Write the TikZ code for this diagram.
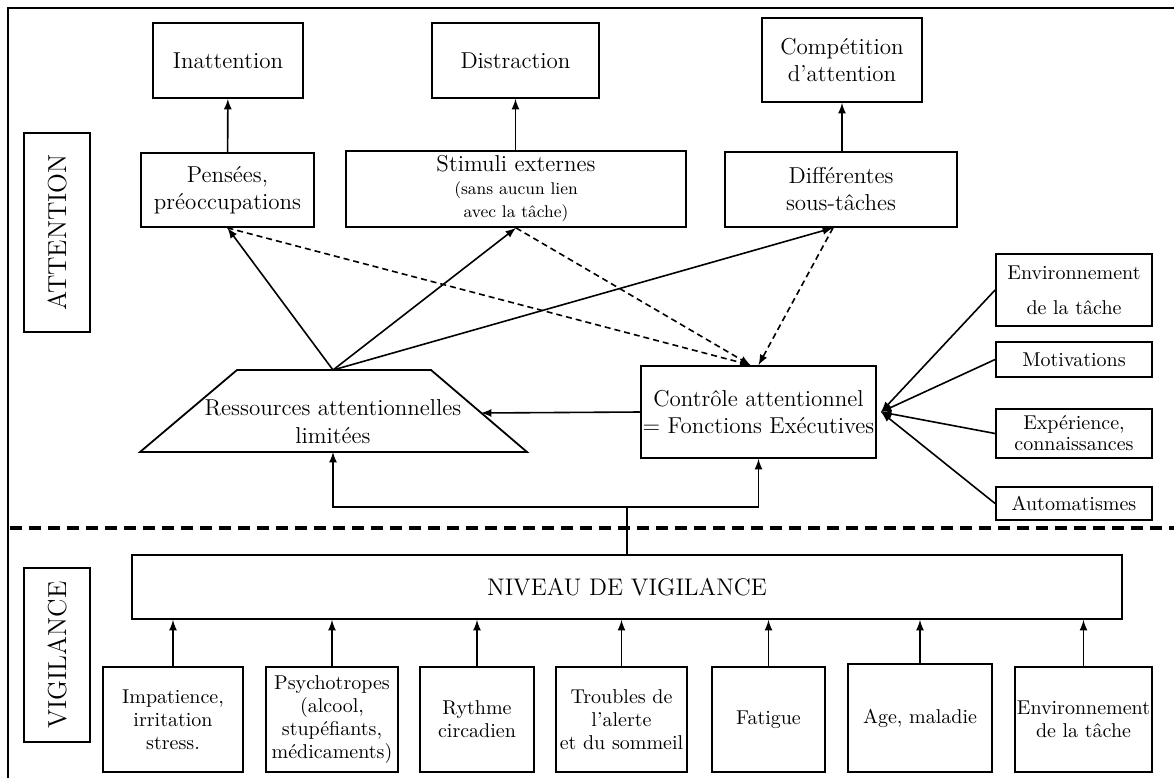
\documentclass[tikz,border=0pt]{standalone}
\usepackage{fontspec}
\usepackage{tikz}
\usetikzlibrary{arrows,calc}
\tikzset{
    box/.style = {draw, rectangle, line width=0.9pt, align=center,
        inner sep=1pt, font=\fontsize{11.5}{13.5}\selectfont},
    smallbox/.style = {box, font=\fontsize{10}{11.5}\selectfont},
    sidebox/.style = {box, rotate=90, minimum height=33pt,
        font=\fontsize{13}{15}\selectfont},
    arrow/.style = {draw, -latex, line width=0.8pt},
    dasharrow/.style = {arrow, dash pattern=on 3pt off 2pt},
    separator/.style = {line width=1.6pt, dash pattern=on 6pt off 3.5pt}
}

\begin{document}
\begin{tikzpicture}[x=0.5pt, y=-0.5pt]
    \useasboundingbox (0,0) rectangle (1174,778);
    \draw[line width=1pt] (8,778) -- (8,8) -- (1174,8);
    % attention part
    \node[sidebox, minimum width=99.5pt] (attn) at (57,232.5) {ATTENTION};
    \node[box, minimum width=75pt, minimum height=37.5pt] (inatt) at (228,60.5) {Inattention};
    \node[box, minimum width=83.5pt, minimum height=37.5pt] (distr) at (515.5,60.5) {Distraction};
    \node[box, minimum width=80pt, minimum height=42pt] (compet) at (842,60) {Compétition\\d’attention};
    \node[box, minimum width=86.5pt, minimum height=37pt] (pensees) at (227.5,190) {Pensées,\\préoccupations};
    \node[box, minimum width=170pt, minimum height=38pt] (stimuli) at (516,189)
        {Stimuli externes\\[-2pt]{\fontsize{8.5}{9.5}\selectfont (sans aucun lien}\\[-2pt]{\fontsize{8.5}{9.5}\selectfont avec la tâche)}};
    \node[box, minimum width=116pt, minimum height=37.5pt] (differ) at (841,189.5) {Différentes\\sous-tâches};
    \draw[line width=0.9pt] (237,370) -- (431,370) -- (527,452) -- (140,452) -- cycle;
    \coordinate (apex) at (333,370);
    \coordinate (resR) at (481,413);
    \coordinate (resB) at (333,452);
    \node[align=center, font=\fontsize{11.5}{14}\selectfont] (res) at (333,422) {Ressources attentionnelles\\limitées};
    \node[box, minimum width=117.5pt, minimum height=46pt] (controle) at (758.5,412)
        {Contrôle attentionnel\\= Fonctions Exécutives};
    \node[smallbox, minimum width=78pt, minimum height=36pt] (envt) at (1074,290) {Environnement\\[6pt]de la tâche};
    \node[smallbox, minimum width=78pt, minimum height=17.5pt] (motiv) at (1074,359.5) {Motivations};
    \node[smallbox, minimum width=78pt, minimum height=24.5pt, font=\fontsize{10}{10.5}\selectfont] (exper) at (1074,433.5) {Expérience,\\connaissances};
    \node[smallbox, minimum width=78pt, minimum height=16.5pt] (autom) at (1074,503.5) {Automatismes};
    \coordinate (hub) at (881,412);
    \coordinate (split) at (627,507);
    \draw[arrow] (pensees) -- (inatt);
    \draw[arrow] (stimuli.north -| distr) -- (distr);
    \draw[arrow] (differ.north -| compet) -- (compet);
    \draw[arrow] (apex) -- (pensees.south);
    \draw[arrow] (apex) -- (stimuli.south);
    \draw[arrow] (apex) -- ([xshift=-4pt]differ.south);
    \draw[dasharrow] (pensees.south) -- ([xshift=-4pt]controle.north);
    \draw[dasharrow] (stimuli.south) -- ([xshift=-4pt]controle.north);
    \draw[dasharrow] ([xshift=-4pt]differ.south) -- (controle.north);
    \draw[arrow] (controle.west) -- (resR);
    \draw[arrow] (envt.west) -- (hub);
    \draw[arrow] (motiv.west) -- (hub);
    \draw[arrow] (exper.west) -- (hub);
    \draw[arrow] (autom.west) -- (hub);
    % vigilance part
    \draw[separator] (10,528) -- (1174,528);
    \node[sidebox, minimum width=87pt] (vigil) at (57,655) {VIGILANCE};
    \node[box, minimum width=495pt, minimum height=32pt, font=\fontsize{12}{14}\selectfont] (niveau) at (627,587) {NIVEAU DE VIGILANCE};
    \draw[line width=0.8pt] (niveau.north) -- (split);
    \draw[arrow] (split) -| (resB);
    \draw[arrow] (split) -| (controle.south);
    \node[smallbox, minimum width=70pt, minimum height=52.5pt] (imp) at (173,719.5) {Impatience,\\irritation\\stress.};
    \node[smallbox, minimum width=66pt, minimum height=52.5pt] (psy) at (332,719.5) {Psychotropes\\(alcool,\\stupéfiants,\\médicaments)};
    \node[smallbox, minimum width=57pt, minimum height=52.5pt] (ryt) at (477,719.5) {Rythme\\circadien};
    \node[smallbox, minimum width=65.5pt, minimum height=52.5pt] (trou) at (621.5,719.5) {Troubles de\\l’alerte\\et du sommeil};
    \node[smallbox, minimum width=56.5pt, minimum height=52.5pt] (fat) at (768.5,719.5) {Fatigue};
    \node[smallbox, minimum width=72pt, minimum height=54pt] (age) at (920,718) {Age, maladie};
    \node[smallbox, minimum width=68.5pt, minimum height=52.5pt] (envb) at (1083.5,719.5) {Environnement\\de la tâche};
    \draw[arrow] (imp.north) -- (imp.north |- niveau.south);
    \draw[arrow] (psy.north) -- (psy.north |- niveau.south);
    \draw[arrow] (ryt.north) -- (ryt.north |- niveau.south);
    \draw[arrow] (trou.north) -- (trou.north |- niveau.south);
    \draw[arrow] (fat.north) -- (fat.north |- niveau.south);
    \draw[arrow] (age.north) -- (age.north |- niveau.south);
    \draw[arrow] (envb.north) -- (envb.north |- niveau.south);
\end{tikzpicture}
\end{document}
